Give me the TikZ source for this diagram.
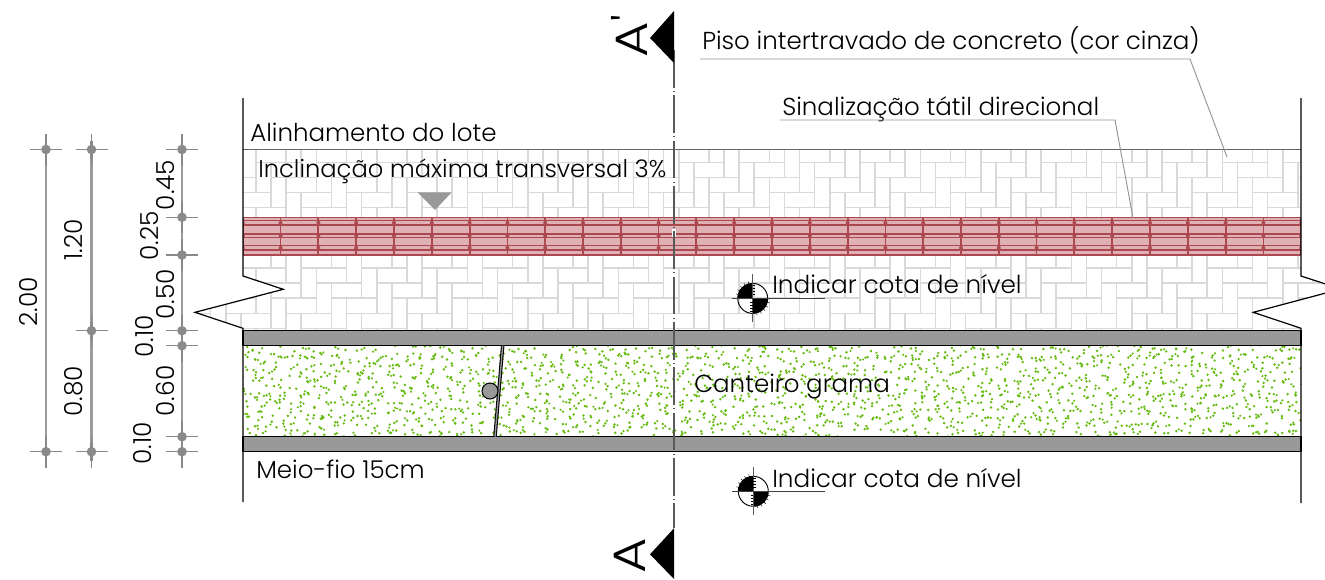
\documentclass[tikz,border=0pt]{standalone}
\usepackage{fontspec}
\setmainfont{Poppins Light}
\usetikzlibrary{calc}
\definecolor{dimgray}{HTML}{8A8A8A}
\definecolor{brick}{HTML}{D9D9D9}
\definecolor{redfill}{HTML}{E0B1B4}
\definecolor{redline}{HTML}{AC4850}
\definecolor{curb}{HTML}{999999}
\definecolor{grass}{HTML}{66BB11}
\tikzset{
  x=0.75pt,y=-0.75pt,
  lab/.style={inner sep=0pt,anchor=base west,font=\fontsize{18.4}{18.4}\selectfont,text=black},
  dimlab/.style={inner sep=0pt,rotate=90,font=\fontsize{18.6}{18.6}\selectfont,text=black},
  seclab/.style={inner sep=0pt,rotate=90,font=\fontsize{34}{34}\selectfont,text=black},
  dimline/.style={draw=dimgray!85,line width=1.6pt},
  leader/.style={draw=black!42,line width=0.7pt},
  edge/.style={draw=black,line width=0.9pt},
}
\newcommand{\dimtick}[2]{%
  \draw[dimgray,line width=1.1pt] (#1-16,#2)--(#1+16,#2) (#1,#2-16)--(#1,#2+16);
  \draw[dimgray,line width=2.2pt] (#1,#2-9)--(#1,#2+9);
  \fill[dimgray] (#1,#2) circle (4.8);}
\newcommand{\levelmark}[3]{%
  \coordinate (#1) at (#2,#3);
  \fill[black] (#1) -- ++(-15,0) arc[start angle=180,end angle=90,radius=11.25pt] -- cycle;
  \fill[black] (#1) -- ++(15,0) arc[start angle=0,end angle=-90,radius=11.25pt] -- cycle;
  \draw[black,line width=0.7pt] (#1) circle (15);
  \draw[black!65,line width=1pt] ($(#1)+(0,-24)$)--($(#1)+(0,24)$);
  \draw[black!75,line width=0.9pt] ($(#1)+(-21,0)$)--($(#1)+(72,0)$);
  \foreach \t in {-13,-10,-7,-4} {
    \draw[black,line width=0.3pt] ($(#1)+(0,\t)$)--++(2.5,0);
    \draw[black,line width=0.3pt] ($(#1)+(0,-\t)$)--++(-2.5,0);
  }
  \foreach \a in {-105,-120,-135,-150,-165,15,30,45,60,75} {
    \draw[black,line width=0.3pt] ($(#1)+(\a:15)$)--($(#1)+(\a:17.5)$);
  }
}
\begin{document}
\begin{tikzpicture}
\useasboundingbox (0,0) rectangle (1325,579);
\clip (0,0) rectangle (1325,579);
\fill[white] (0,0) rectangle (1325,579);
% paving
\begin{scope}
\clip (243,149.5)--(1301,149.5)--(1301,276)--(1341,289)--(1253.3,312.3)--(1301,328.3)--(1301,331)--(243,331)--(243,328.3)--(195,312.3)--(283.3,289.3)--(243,276)--cycle;
\foreach \k in {-3,...,22} {
  \foreach \i in {-6,...,20} {
    \pgfmathsetmacro{\px}{1131.7+15.1*(\k-58+4*\i)}
    \pgfmathsetmacro{\py}{147.2+15.1*\k}
    \draw[brick,line width=1.2pt] (\px,\py) rectangle (\px+30.2,\py+15.1);
    \draw[brick,line width=1.2pt] (\px+45.3,\py) rectangle (\px+60.4,\py+30.2);
  }
}
\end{scope}
% tactile band
\begin{scope}
\clip (243,217) rectangle (1301,255.3);
\fill[redfill] (243,217) rectangle (1301,255.3);
\draw[redline,line width=1pt] (243,217.4)--(1301,217.4) (243,254.9)--(1301,254.9);
\foreach \y/\w in {220.8/0.9,225/0.9,234/1.2,237.6/1.2,245.8/0.9,250/0.9} {
  \draw[redline,line width=\w pt] (243,\y)--(1301,\y);
}
\foreach \j in {0,...,28} {
  \pgfmathsetmacro{\vx}{242.8+37.8*\j}
  \pgfmathtruncatemacro{\odd}{mod(\j,2)}
  \ifnum\odd=0
    \draw[redline,line width=1.6pt] (\vx,217)--(\vx,255.3);
  \else
    \draw[redline,line width=1.1pt] (\vx,217)--(\vx,255.3);
  \fi
  \foreach \y in {222.9,235.8,247.9} {
    \fill[redline] (\vx,\y) circle (2);
  }
}
\end{scope}
% grass
\begin{scope}
\clip (243,346) rectangle (1301,436.5);
\pgfmathsetseed{4217}
\foreach \i in {0,...,141} {
  \foreach \j in {0,...,12} {
    \pgfmathsetmacro{\gx}{243+7.5*\i+11*rnd-5.5}
    \pgfmathsetmacro{\gy}{346+7.5*\j+11*rnd-5.5}
    \pgfmathsetmacro{\ga}{360*rnd}
    \fill[grass] (\gx,\gy) circle (1.35);
    \pgfmathtruncatemacro{\sel}{mod(\i*7+\j*5,3)}
    \ifnum\sel=0
      \fill[grass] ($(\gx,\gy)+(\ga:3.1)$) circle (1.2);
    \fi
  }
}
\end{scope}
% curbs
\draw[edge,fill=curb] (243,330.7) rectangle (1301,345.7);
\draw[edge,fill=curb] (243,436.7) rectangle (1301,451.7);
% outlines
\draw[black!60,line width=0.9pt] (243,149.5)--(1301,149.5);
\draw[edge] (243,98)--(243,276)--(283.3,289.3)--(195,312.3)--(243,328.3)--(243,502);
\draw[edge] (1301,98)--(1301,276)--(1341,289);
\draw[edge] (1341,289)--(1253.3,312.3)--(1301,328.3)--(1301,503);
% post
\draw[black,line width=2.6pt] (502.7,345.7)--(495,436.7);
\draw[curb,line width=1pt] (502.7,345.7)--(495,436.7);
\draw[black,line width=0.8pt,fill=curb] (490,391) circle (8);
% centre line
\draw[white,line width=2.6pt,dash pattern=on 6pt off 27.9pt,dash phase=1.5pt] (674,49.9)--(674,528);
\draw[black!65,line width=1pt,dash pattern=on 28.4pt off 2.4pt on 0.8pt off 2.4pt,dash phase=0pt] (674,49.9)--(674,528);
\fill[black] (674,11)--(650,38)--(674,63)--cycle;
\fill[black] (674,528.3)--(650,554.3)--(674,579)--cycle;
% level marks
\levelmark{la}{752.7}{298.4}
\levelmark{lb}{753.3}{491.3}
% dims
\draw[dimline] (46,149.5)--(46,451.7);
\draw[dimline] (91.5,149.5)--(91.5,451.7);
\draw[dimline] (182,149.5)--(182,451.7);
\foreach \y in {149.5,451.7} {\dimtick{46}{\y}}
\foreach \y in {149.5,330.7,451.7} {\dimtick{91.5}{\y}}
\foreach \y in {149.5,217.3,255,330.7,345.7,436.7,451.7} {\dimtick{182}{\y}}
\node[dimlab] (d1) at (28.5,302) {2.00};
\node[dimlab] (d2) at (73.5,240) {1.20};
\node[dimlab] (d3) at (73.5,391) {0.80};
\node[dimlab] (d4) at (165.5,185) {0.45};
\node[dimlab] (d5) at (149.5,236) {0.25};
\node[dimlab] (d6) at (165.5,294.5) {0.50};
\node[dimlab] (d7) at (144.5,336.5) {0.10};
\node[dimlab] (d8) at (165.5,391) {0.60};
\node[dimlab] (d9) at (143,443.5) {0.10};
% labels
\node[lab] (piso) at (702,49) {Piso intertravado de concreto (cor cinza)};
\node[lab] (sina) at (782,115) {Sinalização tátil direcional};
\node[lab] (alin) at (250,141) {Alinhamento do lote};
\node[lab,font=\fontsize{18.15}{18.15}\selectfont] (incl) at (258,177) {Inclinação máxima transversal 3\%};
\node[lab,font=\fontsize{18.55}{18.55}\selectfont] (ind1) at (772,293) {Indicar cota de nível};
\node[lab] (cant) at (694,392) {Canteiro grama};
\node[lab] (meio) at (256,478) {Meio-fio 15cm};
\node[lab,font=\fontsize{18.55}{18.55}\selectfont] (ind2) at (772,487) {Indicar cota de nível};
\draw[leader] (700,59)--(1190,59)--(1227,157);
\draw[leader] (780,120)--(1115,120)--(1133,218);
\fill[curb] (417.5,192.3)--(451.7,192.3)--(435,210)--cycle;
\node[seclab] (a1) at (629,36) {\scalebox{1.2}[1]{A}\textquotesingle};
\node[seclab] (a2) at (630,556) {\scalebox{1.2}[1]{A}};
\end{tikzpicture}
\end{document}
